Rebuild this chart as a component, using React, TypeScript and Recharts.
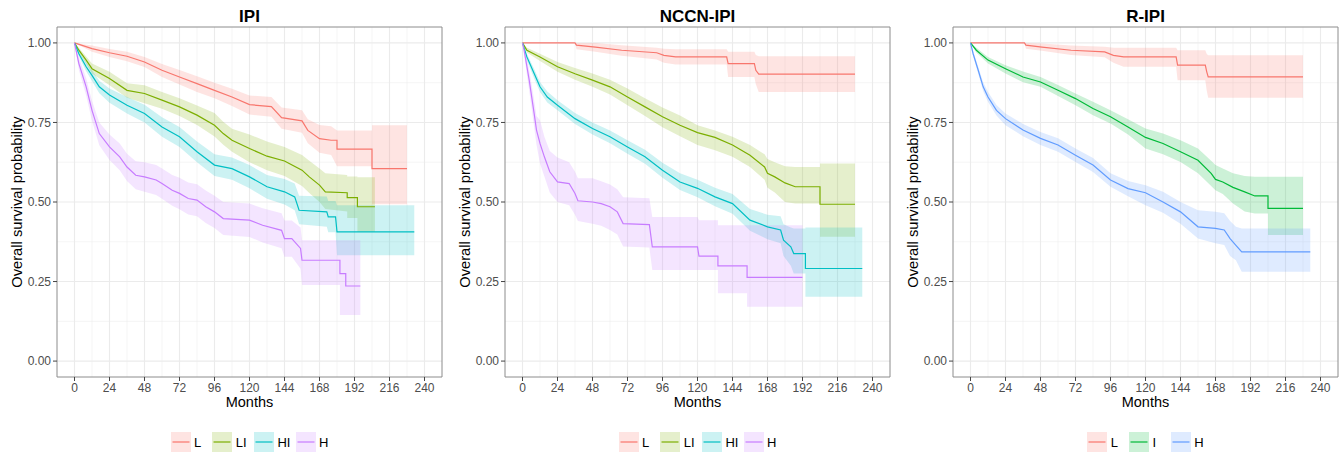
import React from "react";
import { ComposedChart, Line, Area, XAxis, YAxis, CartesianGrid, ReferenceArea } from "recharts";

const MONTH_TICKS = [0, 24, 48, 72, 96, 120, 144, 168, 192, 216, 240];
const MONTH_MINOR = [12, 36, 60, 84, 108, 132, 156, 180, 204, 228];
const SURV_TICKS = [0, 0.25, 0.5, 0.75, 1];
const SURV_MINOR = [0.125, 0.375, 0.625, 0.875];

const FOUR_GROUPS = ["L", "LI", "HI", "H"];
const FOUR_COLORS = ["#F8766D", "#7CAE00", "#00BFC4", "#C77CFF"];
const THREE_GROUPS = ["L", "I", "H"];
const THREE_COLORS = ["#F8766D", "#00BA38", "#619CFF"];

// rows: [month, survival, lower CI, upper CI]
const IPI_L = [
  [0, 1, 1, 1], [12, 0.982, 0.972, 0.992], [24, 0.969, 0.956, 0.981], [36, 0.958, 0.942, 0.972],
  [48, 0.94, 0.924, 0.956], [60, 0.914, 0.893, 0.934], [72, 0.893, 0.869, 0.915], [84, 0.872, 0.846, 0.895],
  [96, 0.851, 0.826, 0.875], [108, 0.83, 0.802, 0.856], [120, 0.806, 0.775, 0.835], [135, 0.8, 0.768, 0.83],
  [142, 0.765, 0.73, 0.797], [156, 0.755, 0.718, 0.788], [160, 0.725, 0.685, 0.76], [168, 0.699, 0.655, 0.742],
  [176, 0.694, 0.648, 0.738], [180, 0.694, 0.612, 0.725], [180, 0.666, 0.612, 0.725], [204, 0.666, 0.612, 0.725],
  [204, 0.605, 0.493, 0.741], [228, 0.605, 0.493, 0.741],
];
const IPI_LI = [
  [0, 1, 1, 1], [3, 0.977, 0.97, 0.985], [8, 0.946, 0.935, 0.957], [12, 0.919, 0.904, 0.935],
  [24, 0.888, 0.867, 0.909], [36, 0.851, 0.828, 0.873], [48, 0.841, 0.81, 0.867], [60, 0.82, 0.793, 0.846],
  [72, 0.799, 0.77, 0.826], [84, 0.773, 0.742, 0.803], [96, 0.741, 0.706, 0.78], [102, 0.715, 0.68, 0.752],
  [108, 0.694, 0.658, 0.73], [120, 0.668, 0.625, 0.712], [132, 0.644, 0.6, 0.69], [144, 0.629, 0.582, 0.673],
  [156, 0.6, 0.55, 0.648], [161, 0.579, 0.528, 0.63], [168, 0.553, 0.5, 0.605], [172, 0.532, 0.478, 0.59],
  [187, 0.529, 0.47, 0.585], [187, 0.514, 0.45, 0.58], [194, 0.514, 0.45, 0.58], [194, 0.485, 0.406, 0.578],
  [206, 0.485, 0.406, 0.578],
];
const IPI_HI = [
  [0, 1, 1, 1], [3, 0.966, 0.957, 0.975], [8, 0.925, 0.911, 0.939], [12, 0.898, 0.88, 0.914],
  [17, 0.862, 0.842, 0.881], [24, 0.836, 0.812, 0.857], [36, 0.804, 0.778, 0.83], [48, 0.778, 0.75, 0.806],
  [60, 0.736, 0.705, 0.766], [72, 0.705, 0.673, 0.736], [84, 0.658, 0.625, 0.69], [96, 0.616, 0.582, 0.65],
  [108, 0.605, 0.57, 0.64], [120, 0.579, 0.543, 0.616], [132, 0.548, 0.51, 0.585], [144, 0.532, 0.492, 0.572],
  [151, 0.516, 0.474, 0.558], [154, 0.474, 0.43, 0.52], [173, 0.469, 0.422, 0.517], [174, 0.453, 0.405, 0.503],
  [179, 0.453, 0.405, 0.503], [180, 0.406, 0.333, 0.49], [233, 0.406, 0.333, 0.49],
];
const IPI_H = [
  [0, 1, 1, 1], [3, 0.935, 0.915, 0.955], [8, 0.862, 0.835, 0.889], [12, 0.788, 0.755, 0.818],
  [17, 0.715, 0.678, 0.75], [24, 0.673, 0.632, 0.712], [31, 0.642, 0.6, 0.684], [36, 0.61, 0.566, 0.652],
  [42, 0.584, 0.54, 0.628], [48, 0.579, 0.532, 0.625], [56, 0.569, 0.522, 0.616], [60, 0.558, 0.51, 0.605],
  [67, 0.537, 0.488, 0.585], [72, 0.527, 0.477, 0.576], [78, 0.511, 0.461, 0.561], [84, 0.506, 0.455, 0.556],
  [90, 0.485, 0.434, 0.536], [96, 0.469, 0.418, 0.52], [102, 0.448, 0.396, 0.5], [120, 0.443, 0.39, 0.495],
  [129, 0.427, 0.373, 0.48], [142, 0.411, 0.355, 0.465], [144, 0.385, 0.328, 0.442], [149, 0.385, 0.328, 0.442],
  [155, 0.354, 0.29, 0.42], [156, 0.317, 0.239, 0.38], [182, 0.317, 0.239, 0.38], [182, 0.275, 0.145, 0.38],
  [186, 0.275, 0.145, 0.38], [186, 0.236, 0.145, 0.38], [196, 0.236, 0.145, 0.38],
];

const NCCN_L = [
  [0, 1, 1, 1], [36, 1, 1, 1], [37, 0.993, 0.98, 1], [50, 0.987, 0.972, 1], [68, 0.977, 0.96, 0.993],
  [92, 0.969, 0.948, 0.985], [97, 0.961, 0.938, 0.982], [105, 0.956, 0.932, 0.98], [140, 0.956, 0.932, 0.98],
  [141, 0.935, 0.893, 0.972], [159, 0.935, 0.893, 0.972], [160, 0.914, 0.87, 0.962], [162, 0.902, 0.846, 0.958],
  [228, 0.902, 0.846, 0.958],
];
const NCCN_LI = [
  [0, 1, 1, 1], [3, 0.977, 0.97, 0.985], [12, 0.956, 0.943, 0.966], [24, 0.925, 0.909, 0.94],
  [36, 0.903, 0.884, 0.921], [48, 0.883, 0.862, 0.904], [60, 0.862, 0.838, 0.884], [72, 0.83, 0.804, 0.857],
  [84, 0.799, 0.77, 0.826], [96, 0.768, 0.735, 0.797], [108, 0.741, 0.707, 0.772], [120, 0.718, 0.679, 0.741],
  [132, 0.703, 0.663, 0.725], [144, 0.679, 0.642, 0.705], [156, 0.647, 0.61, 0.679], [166, 0.61, 0.57, 0.65],
  [168, 0.59, 0.545, 0.635], [173, 0.579, 0.53, 0.625], [180, 0.56, 0.5, 0.612], [187, 0.548, 0.495, 0.61],
  [204, 0.548, 0.495, 0.61], [204, 0.493, 0.391, 0.621], [228, 0.493, 0.391, 0.621],
];
const NCCN_HI = [
  [0, 1, 1, 1], [3, 0.956, 0.945, 0.966], [8, 0.904, 0.888, 0.918], [12, 0.862, 0.846, 0.877],
  [17, 0.83, 0.813, 0.847], [24, 0.804, 0.788, 0.82], [36, 0.762, 0.745, 0.78], [48, 0.731, 0.712, 0.75],
  [60, 0.705, 0.685, 0.725], [72, 0.673, 0.652, 0.694], [84, 0.642, 0.62, 0.664], [96, 0.6, 0.576, 0.623],
  [108, 0.563, 0.538, 0.59], [120, 0.543, 0.515, 0.57], [132, 0.516, 0.487, 0.545], [144, 0.495, 0.463, 0.525],
  [156, 0.443, 0.41, 0.478], [168, 0.422, 0.383, 0.46], [177, 0.412, 0.37, 0.455], [179, 0.38, 0.33, 0.43],
  [184, 0.359, 0.3, 0.42], [186, 0.338, 0.275, 0.417], [194, 0.338, 0.275, 0.417], [194, 0.291, 0.202, 0.42],
  [233, 0.291, 0.202, 0.42],
];
const NCCN_H = [
  [0, 1, 1, 1], [1, 0.98, 0.965, 0.995], [4.6, 0.883, 0.85, 0.915], [8, 0.778, 0.735, 0.82],
  [9.6, 0.726, 0.68, 0.77], [12, 0.684, 0.621, 0.757], [15, 0.642, 0.58, 0.705], [18.7, 0.595, 0.53, 0.66],
  [24, 0.563, 0.5, 0.64], [32, 0.558, 0.49, 0.625], [36, 0.527, 0.46, 0.595], [38, 0.504, 0.44, 0.575],
  [48, 0.5, 0.432, 0.575], [54, 0.495, 0.425, 0.565], [60, 0.485, 0.412, 0.555], [65, 0.469, 0.398, 0.54],
  [69, 0.432, 0.36, 0.515], [87, 0.429, 0.357, 0.512], [89, 0.359, 0.286, 0.453], [120, 0.359, 0.286, 0.453],
  [121, 0.33, 0.286, 0.443], [134, 0.33, 0.286, 0.443], [134, 0.299, 0.213, 0.427], [154, 0.299, 0.213, 0.427],
  [154, 0.263, 0.171, 0.427], [192, 0.263, 0.171, 0.427],
];

const RIPI_L = [
  [0, 1, 1, 1], [37, 1, 1, 1], [38, 0.993, 0.982, 1], [49, 0.987, 0.975, 0.998], [69, 0.977, 0.962, 0.992],
  [92, 0.972, 0.955, 0.988], [98, 0.961, 0.938, 0.985], [105, 0.956, 0.925, 0.985], [141, 0.956, 0.925, 0.985],
  [142, 0.93, 0.883, 0.977], [161, 0.93, 0.883, 0.977], [162, 0.909, 0.85, 0.965], [163, 0.893, 0.828, 0.961],
  [228, 0.893, 0.828, 0.961],
];
const RIPI_I = [
  [0, 1, 1, 1], [4, 0.977, 0.97, 0.985], [12, 0.946, 0.935, 0.956], [24, 0.919, 0.904, 0.93],
  [36, 0.893, 0.876, 0.91], [48, 0.877, 0.862, 0.893], [60, 0.851, 0.833, 0.868], [72, 0.825, 0.804, 0.841],
  [84, 0.794, 0.773, 0.815], [96, 0.768, 0.747, 0.788], [108, 0.736, 0.712, 0.76], [120, 0.703, 0.668, 0.731],
  [132, 0.684, 0.65, 0.715], [144, 0.658, 0.626, 0.694], [156, 0.631, 0.59, 0.668], [165, 0.59, 0.55, 0.63],
  [168, 0.571, 0.537, 0.616], [173, 0.563, 0.525, 0.605], [180, 0.546, 0.495, 0.59], [188, 0.532, 0.47, 0.582],
  [195, 0.519, 0.464, 0.579], [204, 0.519, 0.464, 0.579], [204, 0.48, 0.396, 0.579], [228, 0.48, 0.396, 0.579],
];
const RIPI_H = [
  [0, 1, 1, 1], [1.8, 0.966, 0.958, 0.974], [5.3, 0.914, 0.903, 0.925], [8.7, 0.862, 0.848, 0.876],
  [12, 0.83, 0.815, 0.846], [17.8, 0.788, 0.772, 0.805], [24, 0.762, 0.741, 0.778], [36, 0.726, 0.707, 0.745],
  [48, 0.7, 0.679, 0.72], [60, 0.679, 0.658, 0.7], [72, 0.647, 0.626, 0.668], [84, 0.616, 0.594, 0.638],
  [96, 0.569, 0.548, 0.59], [108, 0.542, 0.518, 0.566], [120, 0.529, 0.49, 0.553], [132, 0.5, 0.466, 0.532],
  [144, 0.469, 0.432, 0.5], [156, 0.422, 0.385, 0.474], [168, 0.417, 0.37, 0.469], [174, 0.412, 0.365, 0.465],
  [178, 0.385, 0.33, 0.44], [182, 0.364, 0.317, 0.422], [186, 0.343, 0.281, 0.417], [233, 0.343, 0.281, 0.417],
];

const PANELS = [
  { title: "IPI", names: FOUR_GROUPS, colors: FOUR_COLORS, series: [IPI_L, IPI_LI, IPI_HI, IPI_H] },
  { title: "NCCN-IPI", names: FOUR_GROUPS, colors: FOUR_COLORS, series: [NCCN_L, NCCN_LI, NCCN_HI, NCCN_H] },
  { title: "R-IPI", names: THREE_GROUPS, colors: THREE_COLORS, series: [RIPI_L, RIPI_I, RIPI_H] },
];

const FONT = '"Liberation Sans", Arial, Helvetica, sans-serif';
const PLOT_LEFT = 57;
const PLOT_WIDTH = 385;

const toRows = (rows: number[][]) => rows.map(([m, s, lo, hi]) => ({ m, s, lo, hi }));

function SurvPanel({ title, names, colors, series }: any) {
  const data = series.map(toRows);
  return (
    <div style={{ position: "relative", width: 448, height: 456 }}>
      <div
        style={{
          position: "absolute", left: PLOT_LEFT, width: PLOT_WIDTH, top: 7, textAlign: "center",
          fontSize: 17, fontWeight: "bold", color: "#000",
        }}
      >
        {title}
      </div>
      <div
        style={{
          position: "absolute", left: 17, top: 202, transform: "translate(-50%, -50%) rotate(-90deg)",
          whiteSpace: "nowrap", fontSize: 14.7, color: "#000",
        }}
      >
        Overall survival probability
      </div>
      <ComposedChart width={448} height={420} margin={{ top: 27, right: 6, left: 0, bottom: 0 }}>
        <CartesianGrid
          stroke="#EFEFEF"
          strokeWidth={0.6}
          verticalValues={MONTH_MINOR}
          horizontalValues={SURV_MINOR}
        />
        <CartesianGrid stroke="#EBEBEB" strokeWidth={1.1} verticalValues={MONTH_TICKS} horizontalValues={SURV_TICKS} />
        <XAxis
          type="number"
          dataKey="m"
          domain={[-12, 252]}
          ticks={MONTH_TICKS}
          allowDataOverflow
          height={43}
          axisLine={false}
          tickSize={4}
          tickMargin={2}
          tickLine={{ stroke: "#444" }}
          tick={{ fontSize: 12, fill: "#4D4D4D", fontFamily: FONT }}
        />
        <YAxis
          type="number"
          domain={[-0.05, 1.05]}
          ticks={SURV_TICKS}
          allowDataOverflow
          width={57}
          axisLine={false}
          tickSize={4}
          tickMargin={2}
          tickLine={{ stroke: "#444" }}
          tickFormatter={(v: number) => v.toFixed(2)}
          tick={{ fontSize: 12, fill: "#4D4D4D", fontFamily: FONT }}
        />
        {data.map((rows: any, i: number) => (
          <Area
            key={"band-" + names[i]}
            data={rows}
            dataKey={(d: any) => [d.lo, d.hi]}
            type="linear"
            stroke="none"
            fill={colors[i]}
            fillOpacity={0.2}
            isAnimationActive={false}
          />
        ))}
        {data.map((rows: any, i: number) => (
          <Line
            key={"line-" + names[i]}
            data={rows}
            dataKey="s"
            type="linear"
            stroke={colors[i]}
            strokeWidth={1.2}
            dot={false}
            activeDot={false}
            isAnimationActive={false}
          />
        ))}
        <ReferenceArea x1={-12} x2={252} y1={-0.05} y2={1.05} fill="none" stroke="#8C8C8C" strokeWidth={1} />
      </ComposedChart>
      <div
        style={{
          position: "absolute", left: PLOT_LEFT, width: PLOT_WIDTH, top: 394, textAlign: "center",
          fontSize: 14.5, color: "#000",
        }}
      >
        Months
      </div>
      <div
        style={{
          position: "absolute", left: PLOT_LEFT, width: PLOT_WIDTH, top: 432, display: "flex",
          justifyContent: "center", alignItems: "center",
        }}
      >
        {names.map((n: string, i: number) => (
          <div
            key={n}
            style={{ display: "flex", alignItems: "center", width: i < names.length - 1 ? 41.7 : "auto" }}
          >
            <svg width={20} height={20}>
              <rect width={20} height={20} fill={colors[i]} fillOpacity={0.2} />
              <line x1={1.5} x2={18.5} y1={10} y2={10} stroke={colors[i]} strokeWidth={1.2} />
            </svg>
            <span style={{ marginLeft: 3.5, fontSize: 13, color: "#000" }}>{n}</span>
          </div>
        ))}
      </div>
    </div>
  );
}

export default function App() {
  return (
    <div
      style={{
        position: "absolute", left: 0, top: 0, width: 1344, height: 456, background: "#fff",
        fontFamily: FONT, display: "flex",
      }}
    >
      {PANELS.map((p) => (
        <SurvPanel key={p.title} {...p} />
      ))}
    </div>
  );
}
